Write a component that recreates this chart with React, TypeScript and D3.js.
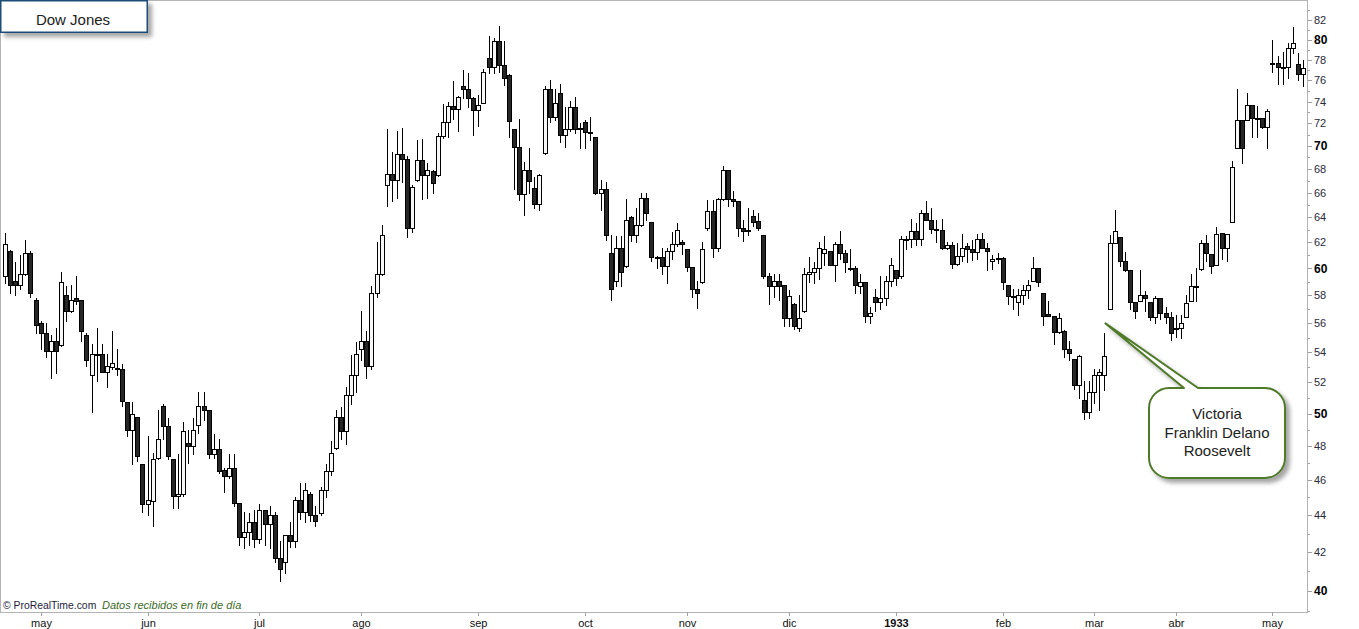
import * as d3 from 'd3'

// daily OHLC, late April 1932 to early May 1933
const opens = [
  59.4, 61.3, 59.1, 58.8, 59.6, 61.2, 57.7, 56.0, 55.3, 54.1,
  54.8, 54.5, 58.0, 56.9, 57.8, 57.7, 55.2, 52.5, 53.9, 53.9,
  52.7, 53.0, 52.95, 52.9, 50.7, 49.0, 49.8, 46.9, 44.6, 44.8,
  47.3, 50.5, 49.2, 47.2, 45.1, 45.2, 48.2, 48.0, 49.3, 50.5,
  50.2, 47.5, 47.8, 46.6, 46.2, 46.7, 44.7, 42.8, 43.1, 43.6,
  42.7, 44.3, 43.5, 44.0, 41.7, 41.5, 42.9, 42.6, 44.85, 44.2,
  45.2, 44.0, 44.1, 45.4, 46.5, 47.9, 49.8, 48.9, 51.2, 52.5,
  54.2, 54.8, 53.1, 58.2, 59.6, 66.6, 67.6, 67.1, 69.3, 68.85,
  63.1, 67.1, 68.8, 67.5, 67.85, 67.45, 70.9, 72.1, 73.6, 73.3,
  75.5, 75.2, 74.3, 73.2, 73.9, 78.2, 77.3, 79.9, 77.5, 76.5,
  71.5, 69.9, 65.9, 67.9, 66.4, 65.1, 69.4, 75.2, 72.6, 74.8,
  71.0, 71.5, 73.5, 71.6, 72.1, 71.2, 70.8, 66.0, 66.3, 61.2,
  59.1, 61.6, 60.2, 64.0, 62.6, 63.4, 65.6, 63.6, 60.9, 60.9,
  60.2, 61.3, 61.85, 62.05, 61.5, 60.1, 58.5, 59.0, 63.1, 64.5,
  61.6, 65.45, 67.9, 65.5, 65.3, 63.1, 63.0, 64.1, 63.7, 62.6,
  59.4, 58.7, 59.1, 58.75, 56.4, 57.4, 55.7, 56.9, 59.55, 59.7,
  60.0, 61.2, 61.3, 60.3, 61.85, 61.15, 60.05, 60.0, 58.7, 59.0,
  56.5, 57.9, 57.55, 57.85, 59.05, 59.9, 59.4, 62.25, 62.25, 62.9,
  62.25, 64.3, 63.8, 63.05, 63.0, 61.55, 61.8, 60.35, 60.95, 61.75,
  61.45, 61.25, 62.25, 61.6, 60.6, 60.8, 60.8, 58.8, 57.95, 57.55,
  58.0, 58.4, 59.1, 60.0, 58.15, 56.65, 56.5, 55.4, 55.5, 54.2,
  53.55, 51.8, 50.85, 50.1, 51.35, 52.45, 52.45, 57.05, 61.95, 62.45,
  60.55, 59.85, 57.55, 57.6, 58.0, 57.55, 56.45, 57.85, 56.7, 56.45,
  55.65, 55.65, 56.45, 57.6, 58.7, 59.95, 61.95, 61.1, 60.3, 62.7,
  61.55, 63.6, 69.8, 72.3, 72.3, 73.7, 72.5, 72.5, 71.65, 77.7,
  77.7, 77.25, 77.3, 79.15, 77.55, 76.6,
]

const highs = [
  62.7, 61.4, 60.5, 61.0, 62.2, 61.3, 57.8, 56.2, 56.0, 55.2,
  55.7, 59.7, 58.7, 58.8, 59.4, 57.7, 55.3, 54.6, 55.7, 54.6,
  53.9, 55.5, 54.2, 53.2, 50.7, 50.7, 49.8, 46.9, 48.6, 47.6,
  50.2, 50.6, 49.7, 47.2, 47.5, 49.5, 49.0, 49.7, 51.4, 51.4,
  50.2, 48.7, 48.4, 46.7, 47.5, 47.5, 44.7, 44.2, 44.1, 44.3,
  44.6, 44.3, 44.5, 44.2, 42.6, 42.9, 43.6, 45.0, 45.8, 45.8,
  45.3, 44.5, 45.6, 46.9, 48.3, 50.2, 50.4, 51.7, 53.8, 54.7,
  56.9, 55.5, 58.7, 62.0, 63.4, 71.5, 69.5, 71.3, 71.6, 69.1,
  66.6, 70.5, 70.6, 68.5, 67.9, 71.1, 73.8, 74.0, 75.9, 74.5,
  77.0, 76.7, 74.4, 74.6, 77.1, 80.4, 80.2, 81.4, 79.9, 76.6,
  71.5, 72.4, 68.6, 69.8, 67.3, 67.6, 75.5, 76.0, 75.2, 75.7,
  73.5, 74.1, 74.4, 72.0, 72.3, 72.6, 70.8, 67.1, 66.9, 62.6,
  62.5, 62.5, 65.5, 64.1, 64.7, 66.0, 66.0, 63.6, 60.95, 61.6,
  61.6, 62.8, 63.5, 62.2, 61.5, 60.15, 59.1, 62.0, 65.4, 65.4,
  65.6, 68.25, 67.95, 66.1, 65.3, 63.8, 64.7, 64.6, 64.3, 62.6,
  59.65, 59.6, 59.6, 58.8, 58.4, 57.45, 58.0, 60.0, 60.9, 60.5,
  62.0, 62.5, 61.35, 62.0, 62.9, 61.4, 61.45, 60.2, 59.6, 59.0,
  57.2, 58.5, 59.4, 59.4, 60.8, 59.9, 62.5, 62.5, 63.85, 63.55,
  64.6, 65.3, 64.7, 63.8, 63.85, 62.0, 62.0, 61.95, 62.65, 61.95,
  62.2, 62.65, 62.7, 61.95, 61.0, 61.2, 60.85, 58.8, 58.45, 58.5,
  58.8, 59.15, 60.85, 60.05, 58.15, 57.6, 56.55, 56.7, 55.55, 54.8,
  53.55, 53.8, 52.1, 52.1, 52.9, 52.9, 55.3, 62.55, 64.6, 62.45,
  61.25, 59.85, 57.55, 59.9, 58.35, 57.55, 57.95, 57.85, 57.15, 56.8,
  56.6, 56.6, 58.05, 59.6, 60.0, 62.2, 62.55, 61.1, 63.25, 62.7,
  62.65, 68.7, 75.2, 72.3, 74.85, 73.7, 73.6, 72.5, 73.3, 79.95,
  78.4, 78.8, 79.7, 81.25, 78.65, 78.0,
]

const lows = [
  58.9, 58.2, 58.0, 58.5, 59.5, 57.9, 55.3, 54.2, 53.7, 52.3,
  52.6, 54.4, 56.2, 56.8, 57.4, 54.8, 53.1, 50.1, 52.1, 52.7,
  51.7, 52.9, 52.5, 50.5, 48.6, 46.9, 47.1, 44.2, 44.0, 43.4,
  47.2, 48.4, 47.2, 44.4, 44.4, 45.1, 47.0, 47.5, 48.8, 49.6,
  47.3, 47.3, 46.4, 45.3, 46.1, 44.5, 42.4, 42.2, 42.4, 42.3,
  42.5, 42.4, 42.2, 41.5, 40.5, 40.9, 42.3, 42.3, 43.8, 43.6,
  43.7, 43.4, 44.0, 45.0, 46.3, 47.8, 48.4, 48.1, 50.6, 51.4,
  53.5, 52.3, 52.9, 57.9, 59.5, 64.9, 65.3, 65.6, 66.9, 62.4,
  62.8, 67.0, 65.5, 65.6, 66.0, 67.4, 70.7, 70.8, 72.4, 71.3,
  74.3, 73.5, 71.0, 71.8, 73.9, 76.7, 76.7, 76.8, 75.6, 70.8,
  66.3, 65.4, 64.2, 66.0, 64.7, 64.6, 69.3, 72.1, 72.3, 70.3,
  69.9, 71.3, 71.1, 69.8, 69.8, 70.5, 65.9, 64.6, 62.2, 57.7,
  58.7, 58.7, 60.1, 62.1, 62.0, 63.3, 63.8, 60.6, 60.0, 59.6,
  58.9, 60.7, 61.7, 61.1, 59.8, 57.9, 57.1, 58.9, 63.0, 60.9,
  61.3, 65.4, 64.9, 64.9, 62.5, 62.1, 62.6, 63.3, 63.0, 59.3,
  57.4, 57.9, 57.7, 55.8, 55.8, 55.6, 55.5, 56.8, 59.0, 58.9,
  59.2, 60.3, 60.25, 59.1, 60.7, 59.7, 59.9, 58.2, 58.2, 56.1,
  56.0, 56.9, 57.0, 57.3, 58.7, 58.75, 59.3, 61.5, 61.65, 61.8,
  61.8, 63.75, 62.7, 62.05, 61.5, 61.5, 60.0, 60.3, 60.6, 60.5,
  60.65, 60.7, 61.55, 59.9, 59.95, 60.4, 58.5, 57.4, 57.0, 56.6,
  57.4, 57.8, 59.05, 58.7, 55.9, 56.5, 54.6, 55.35, 53.7, 53.45,
  51.55, 51.0, 49.65, 49.75, 50.65, 50.2, 51.5, 57.0, 61.95, 60.2,
  59.8, 57.05, 56.35, 57.6, 56.9, 56.25, 56.0, 56.3, 56.0, 54.85,
  55.05, 54.95, 56.45, 57.6, 57.6, 59.9, 60.6, 59.65, 60.3, 60.75,
  60.6, 63.6, 69.8, 68.55, 72.3, 70.8, 70.8, 71.6, 69.8, 76.85,
  75.65, 75.65, 76.2, 78.7, 76.0, 75.5,
]

const closes = [
  61.9, 58.8, 58.8, 59.6, 61.2, 58.2, 55.9, 55.3, 54.1, 54.8,
  54.1, 59.0, 56.9, 57.7, 57.6, 55.5, 53.5, 53.9, 53.85, 52.7,
  53.1, 53.3, 52.9, 50.8, 49.0, 50.0, 47.4, 44.6, 44.85, 47.2,
  48.4, 49.2, 47.4, 45.1, 45.2, 48.9, 48.0, 49.0, 50.5, 50.2,
  47.5, 47.8, 46.5, 46.2, 46.7, 44.7, 42.8, 43.1, 43.6, 42.7,
  44.3, 43.5, 44.0, 41.7, 41.1, 42.9, 42.6, 44.85, 44.2, 45.4,
  44.0, 43.7, 45.4, 46.5, 47.6, 49.8, 48.9, 51.2, 52.5, 53.9,
  54.8, 53.1, 58.2, 59.6, 62.6, 67.6, 67.1, 69.3, 68.85, 63.1,
  66.45, 68.8, 67.5, 67.9, 66.8, 70.9, 72.1, 73.6, 73.3, 74.4,
  75.2, 74.3, 73.2, 73.7, 76.8, 77.3, 79.9, 77.5, 76.2, 72.2,
  69.9, 65.9, 67.9, 67.0, 65.1, 67.5, 75.2, 72.6, 73.85, 71.0,
  71.5, 73.5, 71.5, 71.55, 71.2, 71.15, 66.0, 66.3, 62.6, 58.5,
  61.6, 59.7, 63.8, 62.6, 63.4, 65.6, 64.3, 60.9, 60.85, 60.2,
  61.3, 61.85, 63.0, 61.85, 60.1, 58.5, 58.2, 61.5, 64.5, 61.6,
  65.45, 67.95, 65.5, 65.3, 63.1, 62.9, 62.95, 63.6, 63.1, 59.4,
  58.7, 59.1, 58.7, 56.4, 57.95, 55.8, 56.4, 59.6, 59.7, 60.0,
  61.55, 61.45, 60.3, 61.85, 61.15, 60.5, 60.0, 58.75, 59.0, 56.5,
  56.7, 57.55, 57.85, 59.05, 60.25, 59.3, 62.3, 62.25, 62.9, 62.25,
  64.3, 63.8, 63.05, 63.0, 61.55, 61.8, 60.35, 60.95, 61.55, 61.45,
  61.25, 62.25, 61.6, 61.3, 60.75, 60.8, 59.0, 57.95, 57.95, 58.0,
  58.4, 58.8, 60.0, 59.0, 56.5, 56.55, 55.4, 56.35, 54.2, 53.95,
  51.8, 53.75, 50.1, 51.35, 52.45, 52.7, 53.75, 61.95, 62.9, 60.6,
  59.85, 57.55, 56.85, 58.0, 57.85, 56.45, 57.85, 56.7, 56.45, 55.3,
  55.65, 56.0, 57.45, 58.7, 58.7, 61.95, 61.15, 60.2, 62.65, 61.55,
  62.65, 68.2, 72.3, 69.8, 73.7, 72.5, 72.5, 71.65, 73.15, 77.7,
  77.25, 77.25, 79.15, 79.7, 76.6, 77.15,
]

// first session of each month (index into the series) and its label
const monthLabels = ['may', 'jun', 'jul', 'ago', 'sep', 'oct', 'nov', 'dic', '1933', 'feb', 'mar', 'abr', 'may']
const monthStarts = [7, 28, 50, 70, 93, 114, 134, 154, 175, 196, 214, 230, 249]

const priceTicks = [40, 42, 44, 46, 48, 50, 52, 54, 56, 58, 60, 62, 64, 66, 68, 70, 72, 74, 76, 78, 80, 82]

const calloutLines = ['Victoria', 'Franklin Delano', 'Roosevelt']

const FONT = 'Arial, "Liberation Sans", sans-serif'

export default function App() {
  const width = 1359
  const height = 629
  const plotRight = 1307
  const plotBottom = 612

  const idx = d3.range(opens.length)

  const x = d3.scaleBand<number>().domain(idx).range([2.45, 1305.5]).padding(0)
  const y = d3.scaleLog().domain([40, 82]).range([591.04, 20])

  const cx = (i: number) => Math.round((x(i) ?? 0) + x.bandwidth() / 2)
  const py = (v: number) => Math.round(y(v))

  const minorTicks = d3.range(39, 84).filter((v) => y(v) >= 0 && y(v) <= plotBottom)

  // callout box and the candle it points at
  const box = { left: 1149, right: 1285, top: 388, bottom: 478, r: 20 }
  const tipX = cx(216) + 1.5
  const tipY = y(56)
  const calloutPath = [
    `M${box.left + box.r},${box.top}`,
    `L1184,${box.top}`,
    `L${tipX},${tipY}`,
    `L1198,${box.top}`,
    `L${box.right - box.r},${box.top}`,
    `A${box.r},${box.r} 0 0 1 ${box.right},${box.top + box.r}`,
    `L${box.right},${box.bottom - box.r}`,
    `A${box.r},${box.r} 0 0 1 ${box.right - box.r},${box.bottom}`,
    `L${box.left + box.r},${box.bottom}`,
    `A${box.r},${box.r} 0 0 1 ${box.left},${box.bottom - box.r}`,
    `L${box.left},${box.top + box.r}`,
    `A${box.r},${box.r} 0 0 1 ${box.left + box.r},${box.top}`,
    'Z',
  ].join(' ')

  return (
    <div style={{ position: 'absolute', left: 0, top: 0, background: '#fff' }}>
      <svg width={width} height={height} viewBox={`0 0 ${width} ${height}`} style={{ display: 'block' }}>
        <defs>
          <filter id="shadow" x="-10%" y="-10%" width="130%" height="150%">
            <feDropShadow dx="4" dy="4" stdDeviation="2" floodColor="#000" floodOpacity="0.35" />
          </filter>
        </defs>

        <rect x={0} y={0} width={width} height={height} fill="#fff" />

        {/* plot frame */}
        <rect x={0.5} y={0.5} width={plotRight} height={plotBottom} fill="none" stroke="#b4b4b4" />

        {/* price axis */}
        {minorTicks.map((v) => {
          const ty = py(v) + 0.5
          const major = v % 2 === 0
          return (
            <line key={`mt-${v}`} x1={plotRight + 0.5} x2={plotRight + (major ? 5 : 3)} y1={ty} y2={ty} stroke="#a0a0a0" />
          )
        })}
        {priceTicks.map((v) => {
          const bold = v % 10 === 0
          return (
            <text
              key={`pl-${v}`}
              x={1314}
              y={y(v)}
              dy="0.36em"
              fontFamily={FONT}
              fontSize={bold ? 12 : 11}
              fontWeight={bold ? 'bold' : 'normal'}
              fill={bold ? '#000' : '#2a2a3a'}
            >
              {v}
            </text>
          )
        })}

        {/* time axis */}
        {monthStarts.map((m, k) => {
          const mx = cx(m) + 0.5
          const bold = monthLabels[k] === '1933'
          return (
            <g key={`m-${k}`}>
              <line x1={mx} x2={mx} y1={plotBottom + 0.5} y2={plotBottom + 4} stroke="#a0a0a0" />
              <text
                x={mx}
                y={627}
                textAnchor="middle"
                fontFamily={FONT}
                fontSize={11}
                fontWeight={bold ? 'bold' : 'normal'}
                fill="#111"
              >
                {monthLabels[k]}
              </text>
            </g>
          )
        })}

        {/* candles */}
        {idx.map((i) => {
          const o = opens[i]
          const c = closes[i]
          const hi = Math.max(highs[i], o, c)
          const lo = Math.min(lows[i], o, c)
          const xc = cx(i)
          const up = c >= o
          const top = py(Math.max(o, c))
          const bot = py(Math.min(o, c))
          return (
            <g key={`c-${i}`}>
              <line x1={xc + 0.5} x2={xc + 0.5} y1={py(hi)} y2={py(lo) + 1} stroke="#000" />
              <rect
                x={xc - 1.5}
                y={top + 0.5}
                width={4}
                height={Math.max(bot - top, 1)}
                fill={up ? '#f7f7f7' : '#262626'}
                stroke="#000"
              />
            </g>
          )
        })}

        {/* footer */}
        <text x={3} y={609} fontFamily={FONT} fontSize={10.4} fill="#1e1e3c">
          © ProRealTime.com
        </text>
        <text x={102} y={609} fontFamily={FONT} fontSize={11} fontStyle="italic" fill="#3b6a1f">
          Datos recibidos en fin de día
        </text>

        {/* title box */}
        <rect x={0.75} y={0.75} width={146.5} height={31.5} fill="#fff" stroke="#1f4e79" strokeWidth={1.5} filter="url(#shadow)" />
        <text x={73} y={25} textAnchor="middle" fontFamily={FONT} fontSize={15} fill="#222">
          Dow Jones
        </text>

        {/* annotation */}
        <path d={calloutPath} fill="#fff" stroke="#507a2a" strokeWidth={2} strokeLinejoin="round" filter="url(#shadow)" />
        {calloutLines.map((line, k) => (
          <text
            key={line}
            x={(box.left + box.right) / 2}
            y={419 + k * 18.5}
            textAnchor="middle"
            fontFamily={FONT}
            fontSize={15}
            fill="#222"
          >
            {line}
          </text>
        ))}
      </svg>
    </div>
  )
}
